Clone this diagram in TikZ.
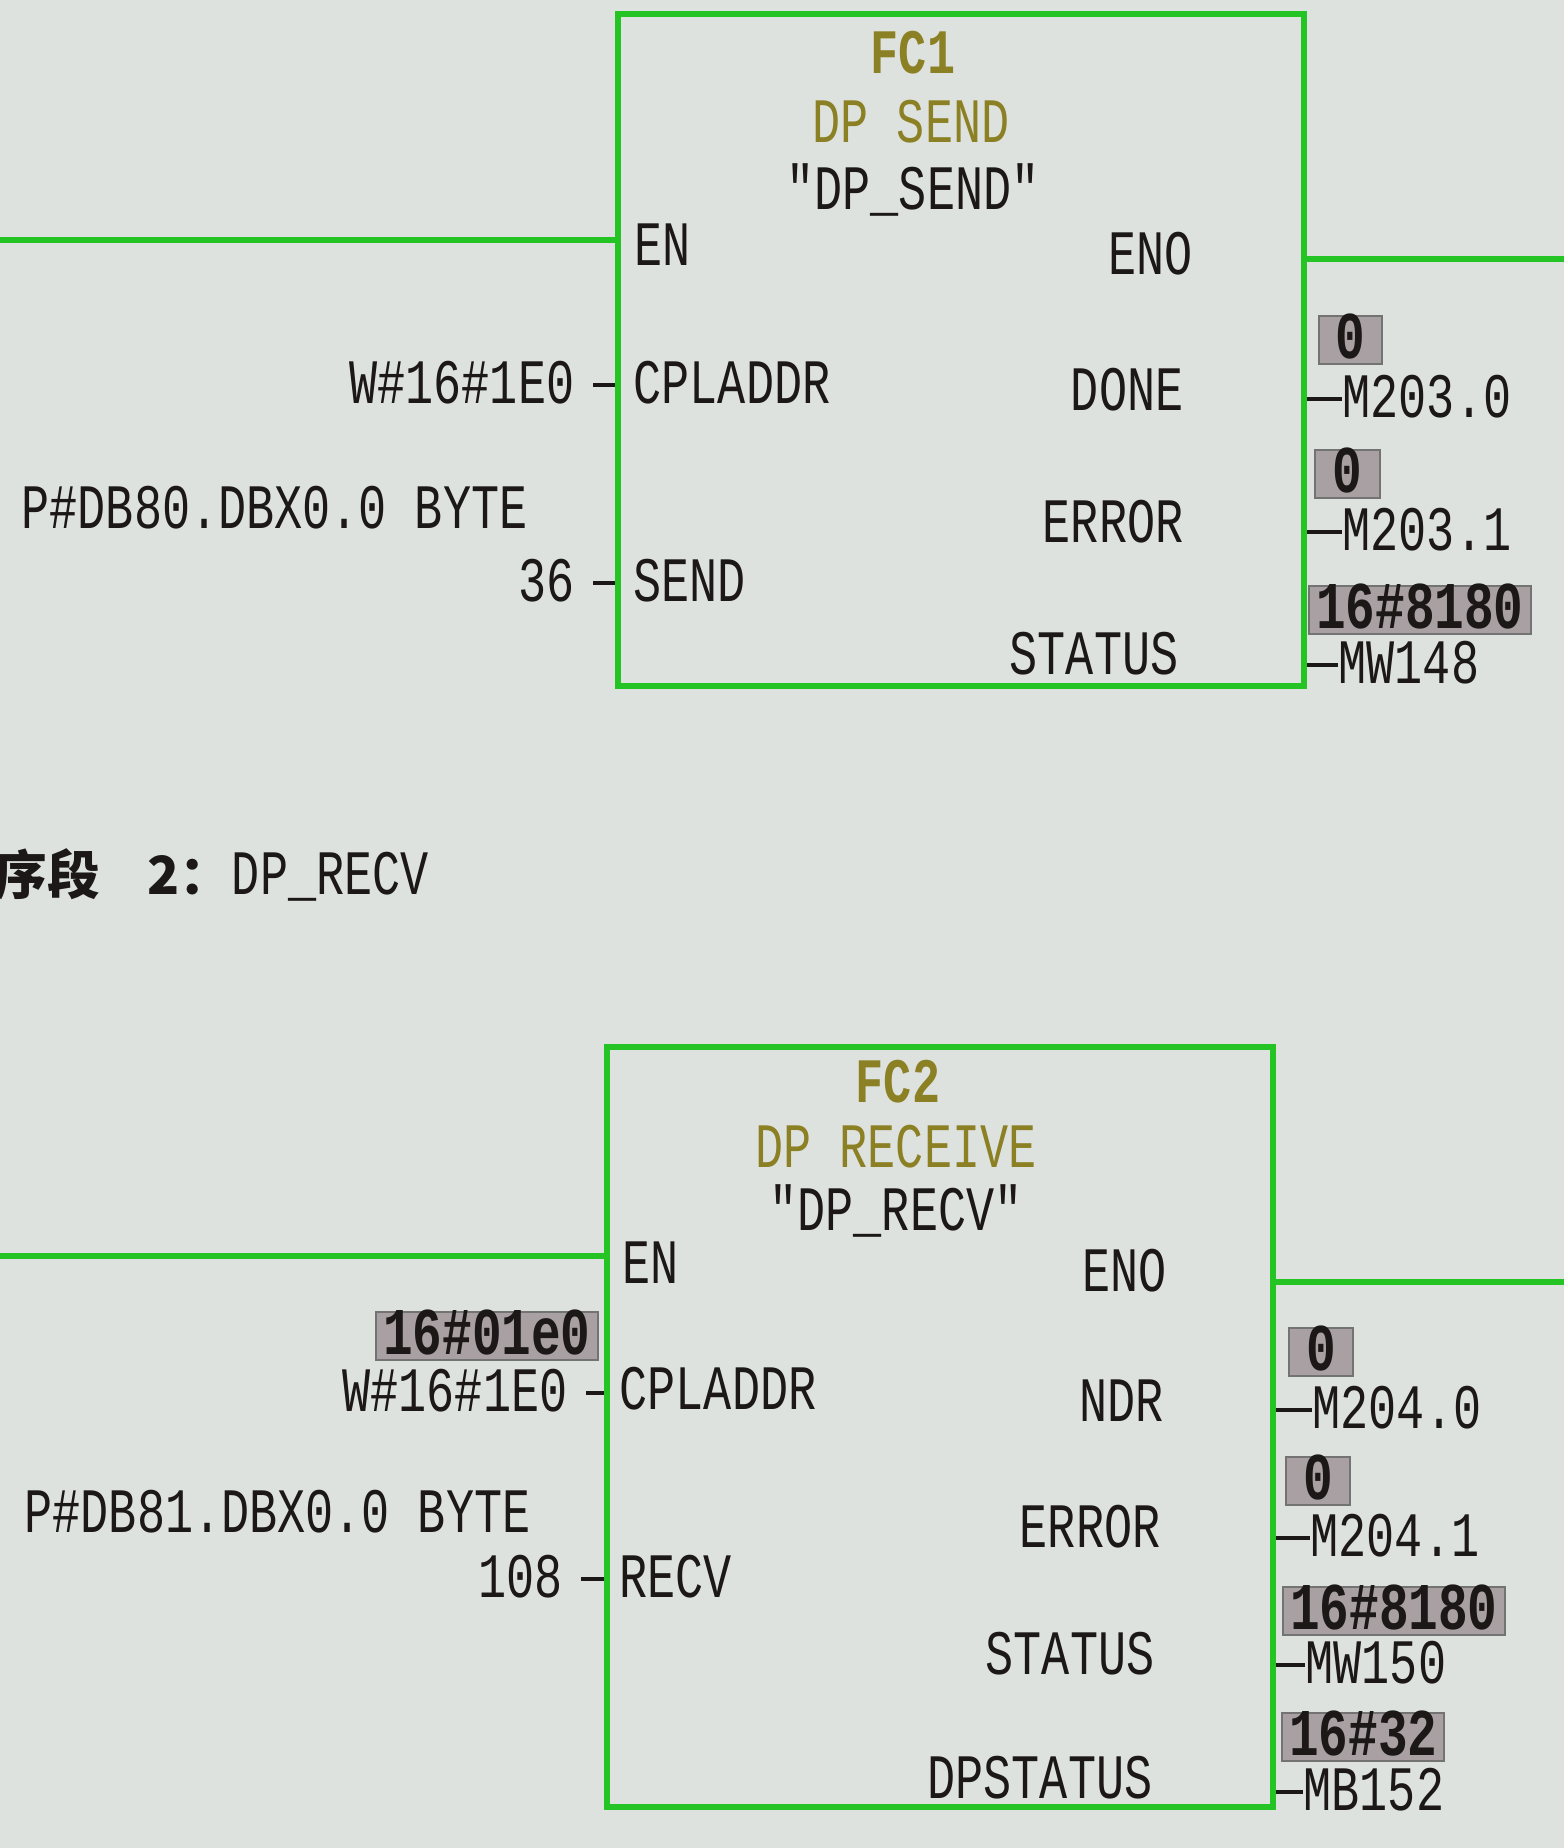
\documentclass[tikz,border=0pt]{standalone}
\usepackage{fontspec}
\usepackage{tikz}
\usetikzlibrary{calc}
\setmainfont{Liberation Mono}
\newfontfamily\plcfont[FakeStretch=0.74]{Liberation Mono}
\newfontfamily\cjkfont{Noto Sans CJK SC}
\definecolor{screen}{RGB}{222,226,222}
\definecolor{ladder}{RGB}{36,196,36}
\definecolor{olivetxt}{RGB}{140,128,36}
\definecolor{ink}{RGB}{28,24,24}
\definecolor{valgray}{RGB}{168,160,162}
\tikzset{
  fcblk/.style ={rectangle, draw=ladder, line width=1.8pt, fill=screen},
  pin/.style   ={inner sep=0pt, text=ink, font=\plcfont\fontsize{18pt}{20pt}\selectfont,
                 text height=10.4pt, text depth=0pt},
  ttl/.style   ={pin, text=olivetxt},
  val/.style   ={rectangle, draw=black!55, line width=0.6pt, fill=valgray, text=ink,
                 font=\plcfont\bfseries\fontsize{19pt}{21pt}\selectfont,
                 inner xsep=0.7mm, inner ysep=0pt, minimum height=4.8mm,
                 text height=10.6pt, text depth=0pt},
  wire/.style  ={draw=ladder, line width=1.8pt},
  stub/.style  ={draw=ink, line width=0.9pt},
  instub/.style={stub, shorten <=1.8mm},
}
\begin{document}
\begin{tikzpicture}[x=0.1mm, y=-0.1mm]
\useasboundingbox (0,0) rectangle (1564,1848);
\fill[screen] (0,0) rectangle (1564,1848);

% network 1: FC1
\node[fcblk, minimum width=68.6mm, minimum height=67.2mm] (b1) at (961,350) {};
\node[ttl] (fc1) at (913,55) {\bfseries FC1};
\node[ttl] (fc1n) at (911,124) {DP SEND};
\node[pin] (fc1s) at (913,191) {"DP\_SEND"};
\node[pin, anchor=west] (en1) at (634,247) {EN};
\node[pin, anchor=east] (eno1) at (1193,256) {ENO};
\node[pin, anchor=west] (cpl1) at (633,385) {CPLADDR};
\node[pin, anchor=west] (snd1) at (633,583) {SEND};
\node[pin, anchor=east] (done1) at (1184,392) {DONE};
\node[pin, anchor=east] (err1) at (1184,524) {ERROR};
\node[pin, anchor=east] (st1) at (1179,656) {STATUS};

\node[pin, anchor=east] (adr1) at (575,385) {W\#16\#1E0};
\node[pin, anchor=west] (ptr1) at (21,510) {P\#DB80.DBX0.0 BYTE};
\node[pin, anchor=east] (len1) at (575,583) {36};
\draw[instub] (adr1.east) -- (adr1.east -| b1.west);
\draw[instub] (len1.east) -- (len1.east -| b1.west);

\node[val, anchor=west, minimum width=6.3mm] (v1a) at (1318,340) {0};
\node[pin, anchor=west] (q1a) at (1342,399) {M203.0};
\node[val, anchor=west, minimum width=6.5mm] (v1b) at (1314,474) {0};
\node[pin, anchor=west] (q1b) at (1342,532) {M203.1};
\node[val, anchor=west] (v1c) at (1308,610) {16\#8180};
\node[pin, anchor=west] (q1c) at (1338,665) {MW148};
\draw[stub] (q1a.west -| b1.east) -- (q1a.west);
\draw[stub] (q1b.west -| b1.east) -- (q1b.west);
\draw[stub] (q1c.west -| b1.east) -- (q1c.west);

\coordinate (l1) at (0,240);
\coordinate (r1) at (1564,259);
\draw[wire] (l1) -- (l1 -| b1.west);
\draw[wire] (b1.east |- r1) -- (r1);

% network 2 title
\node[anchor=west, inner sep=0pt, text=ink] (net2) at (-6,875)
  {{\cjkfont\bfseries\fontsize{15pt}{17pt}\selectfont 序段\hspace{4.7mm}2：}{\plcfont\fontsize{18pt}{20pt}\selectfont DP\_RECV}};

% network 2: FC2
\node[fcblk, minimum width=66.6mm, minimum height=76mm] (b2) at (940,1427) {};
\node[ttl] (fc2) at (898,1084) {\bfseries FC2};
\node[ttl] (fc2n) at (896,1149) {DP RECEIVE};
\node[pin] (fc2s) at (896,1212) {"DP\_RECV"};
\node[pin, anchor=west] (en2) at (622,1265) {EN};
\node[pin, anchor=east] (eno2) at (1167,1273) {ENO};
\node[pin, anchor=west] (cpl2) at (619,1391) {CPLADDR};
\node[pin, anchor=west] (rcv2) at (619,1579) {RECV};
\node[pin, anchor=east] (ndr2) at (1164,1403) {NDR};
\node[pin, anchor=east] (err2) at (1161,1529) {ERROR};
\node[pin, anchor=east] (st2) at (1155,1656) {STATUS};
\node[pin, anchor=east] (dps2) at (1153,1780) {DPSTATUS};

\node[val, anchor=west] (v2i) at (375,1336) {16\#01e0};
\node[pin, anchor=east] (adr2) at (568,1393) {W\#16\#1E0};
\node[pin, anchor=west] (ptr2) at (24,1514) {P\#DB81.DBX0.0 BYTE};
\node[pin, anchor=east] (len2) at (563,1579) {108};
\draw[instub] (adr2.east) -- (adr2.east -| b2.west);
\draw[instub] (len2.east) -- (len2.east -| b2.west);

\node[val, anchor=west, minimum width=6.4mm] (v2a) at (1288,1352) {0};
\node[pin, anchor=west] (q2a) at (1312,1410) {M204.0};
\node[val, anchor=west, minimum width=6.4mm] (v2b) at (1285,1481) {0};
\node[pin, anchor=west] (q2b) at (1310,1538) {M204.1};
\node[val, anchor=west] (v2c) at (1282,1611) {16\#8180};
\node[pin, anchor=west] (q2c) at (1305,1665) {MW150};
\node[val, anchor=west] (v2d) at (1281,1737) {16\#32};
\node[pin, anchor=west] (q2d) at (1303,1792) {MB152};
\draw[stub] (q2a.west -| b2.east) -- (q2a.west);
\draw[stub] (q2b.west -| b2.east) -- (q2b.west);
\draw[stub] (q2c.west -| b2.east) -- (q2c.west);
\draw[stub] (q2d.west -| b2.east) -- (q2d.west);

\coordinate (l2) at (0,1256);
\coordinate (r2) at (1564,1282);
\draw[wire] (l2) -- (l2 -| b2.west);
\draw[wire] (b2.east |- r2) -- (r2);
\end{tikzpicture}
\end{document}
